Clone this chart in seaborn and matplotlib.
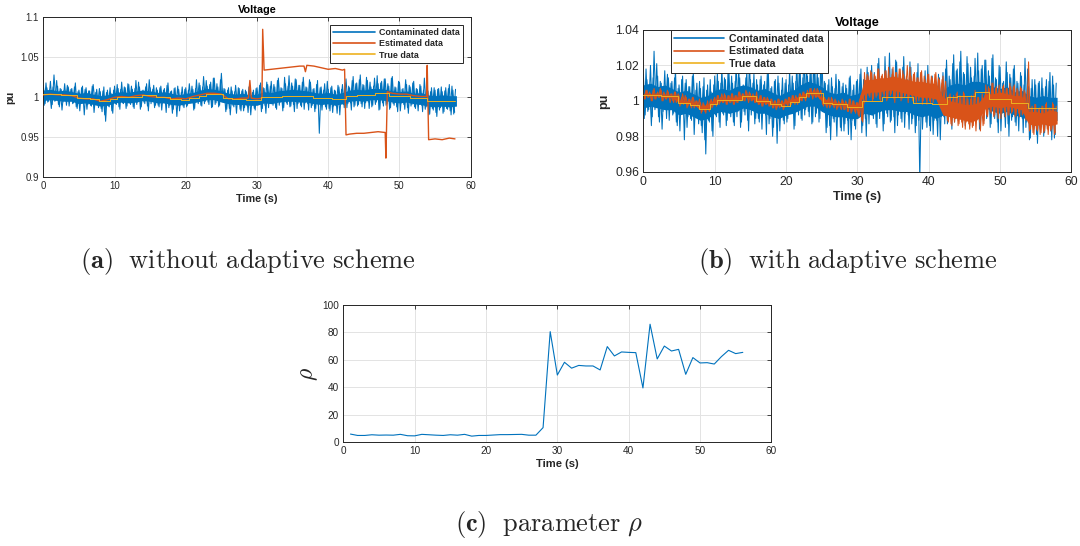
import numpy as np
import pandas as pd
import seaborn as sns
import matplotlib.pyplot as plt

# =============================
#  Données
# =============================
# données bruitées : pics alternés haut / bas tous les 0.25 s, en millièmes de pu autour de 1
cont_dev = [
    15, -8, 12, -5, 20, -9, 28, -4, 14, -12, 10, -6, 17, -10, 13, -3,
    11, -7, 18, -14, 9, -5, 14, -22, 12, -9, 8, -11, 16, -6, 10, -13,
    7, -18, 13, -30, 9, -12, 5, -20, 14, -9, 11, -15, 19, -8, 12, -11,
    16, -9, 10, -14, 21, -6, 13, -12, 9, -8, 17, -17, 12, -5, 15, -10,
    9, -12, 14, -7, 11, -19, 18, -10, 8, -15, 12, -24, 10, -9, 13, -13,
    12, -10, 17, -6, 10, -14, 22, -8, 15, -11, 26, -5, 14, -9, 19, -12,
    24, -7, 13, -10, 30, -6, 10, -15, 12, -22, 8, -12, 15, -9, 11, -17,
    10, -13, 7, -19, 14, -11, 9, -16, 12, -8, 18, -14, 11, -20, 16, -7,
    20, -10, 13, -15, 24, -6, 11, -13, 17, -9, 27, -11, 14, -18, 22, -8,
    15, -12, 25, -7, 12, -16, 19, -10, 11, -14, 21, -45, 13, -9, 17, -15,
    10, -17, 14, -11, 8, -20, 13, -9, 16, -13, 23, -8, 12, -16, 26, -10,
    18, -9, 28, -12, 15, -7, 21, -14, 13, -10, 24, -6, 17, -15, 20, -11,
    23, -8, 14, -13, 26, -10, 12, -18, 19, -7, 11, -15, 16, -20, 13, -9,
    20, -14, 10, -9, 14, -18, 24, -12, 8, -21, 12, -16, 9, -24, 11, -13,
    7, -18, 12, -15, 16, -22, 9, -19,
]
# seconde série de pics, décalée de 0.125 s
cont_dev2 = [
    -10, 18, -6, 9, -14, 13, -5, 21, -9, 11, -16, 8, -4, 15, -11, 10,
    -8, 13, -12, 7, -17, 12, -6, 10, -15, 8, -10, 14, -19, 6, -9, 11,
    -14, 8, -22, 6, -11, 12, -17, 9, -8, 16, -12, 10, -7, 13, -14, 17,
    -7, 14, -12, 11, -9, 19, -15, 8, -6, 13, -11, 22, -8, 10, -13, 12,
    -10, 12, -16, 9, -8, 15, -13, 7, -20, 11, -9, 14, -17, 6, -11, 10,
    -12, 9, -7, 14, -16, 11, -5, 18, -10, 13, -8, 21, -6, 16, -13, 24,
    -9, 17, -12, 22, -5, 11, -18, 9, -14, 13, -10, 7, -20, 12, -15, 8,
    -17, 9, -11, 13, -22, 6, -14, 11, -9, 15, -18, 12, -10, 19, -13, 14,
    -8, 16, -13, 21, -10, 12, -17, 25, -7, 14, -12, 18, -9, 23, -14, 15,
    -10, 19, -15, 13, -8, 22, -13, 10, -18, 16, -11, 12, -16, 9, -12, 20,
    -14, 12, -19, 9, -11, 15, -22, 10, -9, 18, -13, 14, -7, 21, -12, 17,
    -11, 22, -8, 16, -14, 25, -6, 19, -12, 14, -9, 27, -16, 18, -7, 23,
    -10, 17, -15, 24, -8, 13, -12, 20, -17, 10, -9, 22, -13, 15, -11, 18,
    -12, 11, -17, 16, -10, 9, -15, 18, -22, 7, -14, 12, -19, 10, -16, 13,
    -20, 8, -14, 11, -17, 14, -21, 10,
]
# coeur dense du bruit, une valeur par seconde (0 à 58 s), millièmes de pu
cont_core_hi = [9, 10, 8, 9, 7, 5, 6, 4, 2, 3, 6, 7, 6, 8, 9, 8, 6, 7, 5, 3, 5, 6, 9,
                11, 10, 8, 5, 4, 5, 3, 4, 7, 6, 8, 9, 10, 9, 8, 6, 5, 6, 4, 6, 9, 10,
                9, 11, 11, 10, 8, 7, 8, 5, 6, 3, 2, 3, 2, 2]
cont_core_lo = [-4, -3, -4, -5, -5, -8, -7, -9, -11, -10, -7, -6, -7, -6, -4, -5, -7,
                -7, -9, -10, -8, -7, -5, -3, -3, -6, -8, -9, -9, -10, -10, -7, -8, -6,
                -5, -5, -6, -6, -8, -9, -8, -10, -8, -5, -4, -5, -3, -3, -4, -6, -7,
                -6, -8, -9, -11, -12, -11, -12, -11]

# estimation avec schéma adaptatif (b), même codage
est_b_dev = [
    5, 1, 6, 2, 4, 0, 7, 1, 5, 2, 6, 0, 4, 1, 5, -1,
    4, -1, 5, 0, 3, -2, 4, -1, 2, -3, 1, -4, 2, -3, 0, -4,
    -1, -6, -2, -7, 0, -6, 1, -3, 2, -3, 3, -1, 4, -1, 3, -2,
    3, -1, 4, -2, 3, -1, 5, 0, 4, 0, 5, -1, 4, 0, 3, -1,
    2, -2, 3, -3, 2, -2, 1, -3, 1, -4, 0, -4, 1, -3, 0, -4,
    1, -3, 2, -2, 3, -2, 2, -1, 4, 0, 5, 0, 6, 2, 7, 1,
    7, 2, 6, 1, 3, -3, 1, -4, 2, -3, 1, -4, 0, -4, -1, -5,
    0, -5, -1, -6, 1, -6, 0, -7, -1, -9, 3, -12, 16, 0, 14, 2,
    16, 1, 14, 3, 18, 0, 15, 2, 17, 1, 13, 4, 19, -1, 16, 2,
    18, 1, 15, 3, 20, 2, 14, 0, 16, -1, 13, 2, 17, 0, 12, -2,
    15, -1, 13, 1, 16, 0, 12, -2, 14, -1, 2, -12, 4, -14, 3, -10,
    5, -13, 2, -15, 4, -12, 1, -16, 3, -14, 6, -11, 2, -17, 4, -13,
    9, -9, 7, -7, 10, -8, 8, -10, 6, -7, 9, -9, 7, -8, 8, -6,
    9, -8, 6, -9, 7, -7, 5, -10, 22, -16, -3, -19, -2, -17, -4, -18,
    -3, -17, -1, -19, -4, -16, -2, -18,
]
est_b_dev2 = [
    1, 6, 2, 5, 0, 6, 1, 4, 2, 7, 0, 5, 1, 6, 2, 4,
    0, 5, -1, 4, -3, 2, -2, 3, -4, 1, -3, 2, -4, 0, -3, 1,
    -7, -1, -6, -2, -5, 0, -4, 1, -2, 3, -2, 2, -1, 4, -2, 3,
    -1, 4, -2, 3, -1, 5, 0, 4, 0, 6, 1, 5, 0, 4, -1, 5,
    -2, 3, -3, 2, -2, 2, -3, 1, -4, 0, -5, 1, -4, 0, -5, 1,
    -2, 2, -3, 3, -1, 3, -2, 4, 0, 5, 1, 4, 2, 7, 3, 6,
    2, 7, 3, 6, -2, 2, -3, 1, -4, 2, -3, 1, -5, 0, -4, 1,
    -5, 0, -6, 1, -7, 0, -6, -1, -8, 1, -11, -2, 1, 15, 3, 17,
    0, 15, 2, 18, 1, 14, 4, 17, 0, 19, 3, 15, 1, 16, 2, 18,
    0, 17, 2, 14, -1, 19, 3, 15, 1, 13, 0, 16, -2, 14, 1, 15,
    0, 14, -1, 15, 2, 13, -1, 12, 0, 11, -11, 3, -13, 1, -12, 4,
    -14, 3, -12, 5, -16, 2, -13, 1, -15, 4, -17, 2, -12, 0, -14, 3,
    -8, 8, -6, 10, -9, 7, -7, 9, -10, 8, -6, 7, -8, 10, -7, 8,
    -9, 7, -7, 8, -8, 6, -11, 9, -17, -4, -18, -2, -16, -5, -19, -3,
    -18, -2, -16, -4, -17, -1, -19, -3,
]
est_b_core_hi = [4, 4, 4, 3, 3, 0, 0, -1, -3, -2, 1, 1, 1, 2, 3, 3, 1, 1, -1, -2, 0, 1,
                 3, 5, 5, 2, 0, -1, -1, -2, -2, 12, 12, 13, 13, 14, 13, 12, 11, 11, 10,
                 10, 2, 0, -1, -2, -2, -1, 4, 4, 5, 4, 3, 3, -6, -6, -7, -5, -6]
est_b_core_lo = [3, 3, 3, 2, 2, -1, -1, -2, -5, -4, -1, 0, 0, 0, 2, 2, -1, -1, -2, -3,
                 -1, -1, 1, 4, 4, 0, -2, -2, -2, -4, -5, 4, 5, 5, 6, 6, 5, 4, 3, 2, 2,
                 1, -8, -9, -10, -11, -12, -10, -4, -3, -4, -3, -4, -5, -13, -14, -13,
                 -14, -13]

# estimation sans schéma adaptatif (a)
est_a_t = [0, 1, 2, 3, 4, 5, 6, 7, 8, 8.5, 9, 10, 11, 12, 13, 14, 15, 16, 17, 18,
           19, 20, 21, 22, 23, 24, 25, 26, 27, 28, 28.8, 29.0, 29.2, 30, 30.7, 30.8,
           31.0, 32, 33, 34, 35, 36, 36.6, 36.8, 37, 38, 39, 40, 41, 42, 42.3, 42.5,
           43, 44, 45, 46, 47, 48, 48.1, 48.3, 49, 50, 51, 52, 53, 53.8, 53.9, 54.1,
           55, 56, 57, 57.8]
est_a_v = [1.003, 1.004, 1.003, 1.003, 1.002, 0.999, 0.998, 0.998, 0.995, 0.996,
           0.997, 1.000, 1.001, 1.000, 1.002, 1.003, 1.001, 1.000, 1.000, 0.998,
           0.999, 0.998, 1.001, 1.003, 1.005, 1.005, 1.004, 0.998, 0.998, 0.999,
           0.999, 1.021, 0.999, 0.998, 0.999, 1.085, 1.034, 1.035, 1.036, 1.037,
           1.038, 1.039, 1.039, 1.032, 1.040, 1.039, 1.037, 1.035, 1.036, 1.034,
           1.035, 0.953, 0.954, 0.955, 0.955, 0.956, 0.957, 0.956, 0.924, 1.007,
           1.005, 1.004, 1.004, 1.002, 1.001, 1.001, 1.040, 0.947, 0.948, 0.947,
           0.949, 0.948]

# vraie tension (paliers)
true_t = [0, 2.5, 4.8, 6.5, 7.8, 9.3, 10.3, 13.8, 15.8, 17.8, 19.3, 20.5, 21.8, 22.8,
          25.2, 26.5, 28.5, 30.6, 33.5, 37.8, 40.5, 42.5, 44.0, 46.5, 48.5, 51.5,
          53.9, 57.8]
true_v = [1.0035, 1.0025, 0.999, 0.9975, 0.9955, 0.998, 1.0005, 1.0025, 1.000,
          0.998, 0.997, 0.9995, 1.002, 1.0045, 0.999, 0.998, 0.9965, 1.000, 1.002,
          0.999, 0.998, 1.002, 1.003, 1.005, 1.001, 0.999, 0.9957, 0.9957]

# paramètre rho (c)
rho_t = list(range(1, 57))
rho_v = [6, 5, 5, 5.5, 5.2, 5.3, 5.2, 5.8, 4.8, 4.7, 5.8, 5.5, 5.2, 5, 5.5, 5.2,
         5.8, 4.5, 5, 5, 5.3, 5.6, 5.6, 5.7, 5.8, 5.2, 5.2, 10.7, 80.6, 49, 58.3,
         54, 56, 55.6, 55.6, 52.7, 69.7, 62.9, 65.8, 65.5, 65.3, 39.6, 86, 60.7,
         70.1, 66.5, 67.7, 49.5, 61.7, 57.8, 58, 57, 62.4, 67, 64.6, 65.5]

# =============================
#  Mise en forme
# =============================
sns.set_theme(style="whitegrid")
plt.rcParams["font.family"] = ["Liberation Sans", "DejaVu Sans"]
plt.rcParams["mathtext.fontset"] = "cm"

BLUE, ORANGE, YELLOW = "#0072BD", "#D95319", "#EDB120"
DARK = "#262626"

sec = np.arange(len(cont_core_hi))


def peaks_df(devs, shift):
    return pd.DataFrame({"t": np.arange(len(devs)) * 0.25 + shift,
                         "v": 1 + np.array(devs) / 1000})


cont1, cont2 = peaks_df(cont_dev, 0.0), peaks_df(cont_dev2, 0.125)
estb1, estb2 = peaks_df(est_b_dev, 0.0), peaks_df(est_b_dev2, 0.125)
est_a = pd.DataFrame({"t": est_a_t, "v": est_a_v})
true = pd.DataFrame({"t": true_t, "v": true_v})
rho = pd.DataFrame({"t": rho_t, "v": rho_v})

fig = plt.figure(figsize=(10.8, 5.46), dpi=100)
ax_a = fig.add_axes([0.0401, 0.6753, 0.3957, 0.2930])
ax_b = fig.add_axes([0.5957, 0.6855, 0.3963, 0.2596])
ax_c = fig.add_axes([0.3179, 0.1899, 0.3963, 0.2515])


def style_axes(ax, fs):
    ax.set_facecolor("white")
    ax.grid(True, color="#e3e3e3", linewidth=0.7)
    for s in ax.spines.values():
        s.set_color(DARK)
        s.set_linewidth(0.7)
    ax.tick_params(direction="in", length=3, width=0.6, top=True, right=True,
                   labelsize=fs, colors=DARK, pad=3)


def draw_noisy(ax, core_hi, core_lo, p1, p2, color, label):
    ax.fill_between(sec, 1 + np.array(core_lo) / 1000, 1 + np.array(core_hi) / 1000,
                    color=color, lw=0, zorder=2)
    sns.lineplot(data=p1, x="t", y="v", ax=ax, color=color, lw=0.75,
                 estimator=None, label=label, zorder=2)
    sns.lineplot(data=p2, x="t", y="v", ax=ax, color=color, lw=0.75,
                 estimator=None, zorder=2)


def style_legend(ax, loc, anchor, size):
    h, l = ax.get_legend_handles_labels()
    leg = ax.legend(h, l, loc=loc, bbox_to_anchor=anchor, borderaxespad=0,
                    prop={"size": size, "weight": "bold"}, frameon=True,
                    fancybox=False, edgecolor=DARK, framealpha=1, handlelength=4.7,
                    handletextpad=0.5, borderpad=0.35, labelspacing=0.25)
    leg.get_frame().set_linewidth(0.7)
    for ln in leg.get_lines():
        ln.set_linewidth(1.2)


# (a) sans schéma adaptatif
draw_noisy(ax_a, cont_core_hi, cont_core_lo, cont1, cont2, BLUE, "Contaminated data")
sns.lineplot(data=est_a, x="t", y="v", ax=ax_a, color=ORANGE, lw=1.0, estimator=None,
             label="Estimated data", zorder=3)
sns.lineplot(data=true, x="t", y="v", ax=ax_a, color=YELLOW, lw=0.7, estimator=None,
             drawstyle="steps-post", label="True data", zorder=4)
ax_a.set_xlim(0, 60)
ax_a.set_ylim(0.9, 1.1)
ax_a.set_xticks(range(0, 61, 10))
ax_a.set_yticks([0.9, 0.95, 1.0, 1.05, 1.1])
ax_a.set_yticklabels(["0.9", "0.95", "1", "1.05", "1.1"])
style_axes(ax_a, 6.9)
ax_a.set_title("Voltage", fontsize=7.8, fontweight="bold", color="black", pad=3)
ax_a.set_xlabel("Time (s)", fontsize=7.8, fontweight="bold", labelpad=2)
ax_a.set_ylabel("pu", fontsize=7.8, fontweight="bold", labelpad=4)
style_legend(ax_a, "upper right", (0.982, 0.952), 6.4)

# (b) avec schéma adaptatif
draw_noisy(ax_b, cont_core_hi, cont_core_lo, cont1, cont2, BLUE, "Contaminated data")
draw_noisy(ax_b, est_b_core_hi, est_b_core_lo, estb1, estb2, ORANGE, "Estimated data")
sns.lineplot(data=true, x="t", y="v", ax=ax_b, color=YELLOW, lw=0.7, estimator=None,
             drawstyle="steps-post", label="True data", zorder=4)
ax_b.set_xlim(0, 60)
ax_b.set_ylim(0.96, 1.04)
ax_b.set_xticks(range(0, 61, 10))
ax_b.set_yticks([0.96, 0.98, 1.0, 1.02, 1.04])
ax_b.set_yticklabels(["0.96", "0.98", "1", "1.02", "1.04"])
style_axes(ax_b, 8.7)
ax_b.set_title("Voltage", fontsize=9.1, fontweight="bold", color="black", pad=3)
ax_b.set_xlabel("Time (s)", fontsize=9.1, fontweight="bold", labelpad=2)
ax_b.set_ylabel("pu", fontsize=9.1, fontweight="bold", labelpad=4)
style_legend(ax_b, "upper left", (0.064, 1.0), 7.6)

# (c) paramètre rho
sns.lineplot(data=rho, x="t", y="v", ax=ax_c, color=BLUE, lw=0.8, estimator=None)
ax_c.set_xlim(0, 60)
ax_c.set_ylim(0, 100)
ax_c.set_xticks(range(0, 61, 10))
ax_c.set_yticks(range(0, 101, 20))
style_axes(ax_c, 7.2)
ax_c.set_xlabel("Time (s)", fontsize=8.1, fontweight="bold", labelpad=2)
ax_c.set_ylabel(r"$\rho$", fontsize=17, labelpad=2)

# légendes des sous-figures
fig.text(248 / 1080, 1 - 261 / 546, r"$\mathbf{(a)}\ \ \mathrm{without\ adaptive\ scheme}$",
         ha="center", va="center", fontsize=19)
fig.text(848 / 1080, 1 - 261 / 546, r"$\mathbf{(b)}\ \ \mathrm{with\ adaptive\ scheme}$",
         ha="center", va="center", fontsize=19)
fig.text(549 / 1080, 1 - 524 / 546, r"$\mathbf{(c)}\ \ \mathrm{parameter}\ \rho$",
         ha="center", va="center", fontsize=19)

fig.savefig("out.png", dpi=100)
plt.close()
